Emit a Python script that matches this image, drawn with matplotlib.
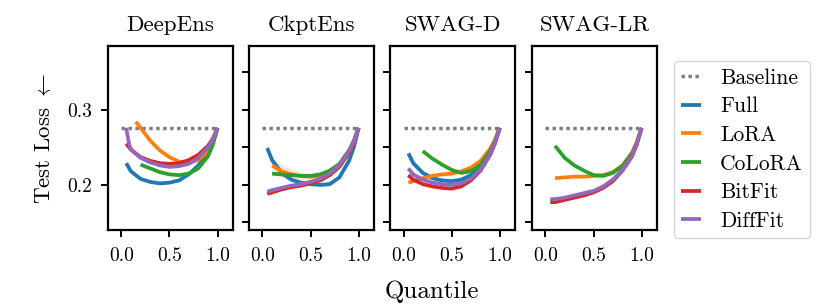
import numpy as np
import matplotlib
matplotlib.use("Agg")
import matplotlib.pyplot as plt

plt.rcParams["font.family"] = ["cmr10", "DejaVu Serif"]
plt.rcParams["mathtext.fontset"] = "cm"
plt.rcParams["axes.formatter.use_mathtext"] = True

methods = ["DeepEns", "CkptEns", "SWAG-D", "SWAG-LR"]
variants = ["Full", "LoRA", "CoLoRA", "BitFit", "DiffFit"]
colors = ["#1f77b4", "#ff7f0e", "#2ca02c", "#d62728", "#9467bd"]
baseline = 0.276

# DeepEns
de_full_x = [0.05, 0.1, 0.2, 0.3, 0.4, 0.5, 0.6, 0.7, 0.8, 0.9, 0.95, 1.0]
de_full_y = [0.229, 0.218, 0.208, 0.204, 0.202, 0.203, 0.206, 0.214, 0.226, 0.243, 0.256, 0.276]
de_lora_x = [0.15, 0.2, 0.3, 0.4, 0.5, 0.6, 0.7, 0.8, 0.9, 0.95, 1.0]
de_lora_y = [0.284, 0.276, 0.259, 0.246, 0.237, 0.231, 0.230, 0.233, 0.245, 0.257, 0.276]
de_colora_x = [0.2, 0.3, 0.4, 0.5, 0.6, 0.7, 0.8, 0.9, 0.95, 1.0]
de_colora_y = [0.227, 0.222, 0.217, 0.214, 0.213, 0.215, 0.222, 0.238, 0.253, 0.276]
de_bitfit_x = [0.05, 0.1, 0.2, 0.3, 0.4, 0.5, 0.6, 0.7, 0.8, 0.9, 0.95, 1.0]
de_bitfit_y = [0.255, 0.247, 0.237, 0.232, 0.229, 0.228, 0.229, 0.233, 0.240, 0.252, 0.261, 0.276]
de_difffit_x = [0.05, 0.08, 0.1, 0.2, 0.3, 0.4, 0.5, 0.6, 0.7, 0.8, 0.9, 0.95, 1.0]
de_difffit_y = [0.276, 0.255, 0.247, 0.236, 0.230, 0.226, 0.224, 0.225, 0.228, 0.236, 0.250, 0.260, 0.276]

# CkptEns
ck_full_x = [0.05, 0.1, 0.2, 0.3, 0.4, 0.5, 0.6, 0.7, 0.8, 0.9, 0.95, 1.0]
ck_full_y = [0.249, 0.233, 0.216, 0.207, 0.203, 0.201, 0.200, 0.201, 0.210, 0.232, 0.250, 0.276]
ck_full_s = [0.006, 0.005, 0.004, 0.003, 0.002, 0.002, 0.002, 0.002, 0.002, 0.002, 0.001, 0.001]
ck_lora_x = [0.1, 0.2, 0.3, 0.4, 0.5, 0.6, 0.7, 0.8, 0.9, 0.95, 1.0]
ck_lora_y = [0.226, 0.218, 0.214, 0.212, 0.211, 0.212, 0.216, 0.225, 0.243, 0.257, 0.276]
ck_lora_s = [0.010, 0.009, 0.007, 0.005, 0.003, 0.002, 0.002, 0.002, 0.001, 0.001, 0.001]
ck_colora_x = [0.1, 0.2, 0.3, 0.4, 0.5, 0.6, 0.7, 0.8, 0.9, 0.95, 1.0]
ck_colora_y = [0.215, 0.214, 0.213, 0.212, 0.212, 0.214, 0.219, 0.228, 0.246, 0.259, 0.276]
ck_bitfit_x = [0.05, 0.1, 0.2, 0.3, 0.4, 0.5, 0.6, 0.7, 0.8, 0.9, 0.95, 1.0]
ck_bitfit_y = [0.188, 0.190, 0.194, 0.197, 0.199, 0.202, 0.206, 0.213, 0.224, 0.243, 0.256, 0.276]
ck_difffit_x = [0.05, 0.1, 0.2, 0.3, 0.4, 0.5, 0.6, 0.7, 0.8, 0.9, 0.95, 1.0]
ck_difffit_y = [0.191, 0.193, 0.196, 0.199, 0.201, 0.204, 0.208, 0.215, 0.226, 0.245, 0.258, 0.276]

# SWAG-D
sd_full_x = [0.05, 0.1, 0.2, 0.3, 0.4, 0.5, 0.6, 0.7, 0.8, 0.9, 0.95, 1.0]
sd_full_y = [0.242, 0.229, 0.216, 0.209, 0.206, 0.205, 0.207, 0.213, 0.224, 0.242, 0.256, 0.276]
sd_full_s = [0.004, 0.004, 0.003, 0.003, 0.002, 0.002, 0.002, 0.002, 0.002, 0.001, 0.001, 0.001]
sd_lora_x = [0.05, 0.1, 0.2, 0.3, 0.4, 0.5, 0.6, 0.7, 0.8, 0.9, 0.95, 1.0]
sd_lora_y = [0.203, 0.205, 0.209, 0.212, 0.214, 0.215, 0.218, 0.223, 0.232, 0.248, 0.260, 0.276]
sd_colora_x = [0.2, 0.3, 0.4, 0.5, 0.6, 0.7, 0.8, 0.9, 0.95, 1.0]
sd_colora_y = [0.245, 0.235, 0.227, 0.220, 0.216, 0.218, 0.227, 0.245, 0.258, 0.276]
sd_bitfit_x = [0.05, 0.1, 0.2, 0.3, 0.4, 0.5, 0.6, 0.7, 0.8, 0.9, 0.95, 1.0]
sd_bitfit_y = [0.213, 0.207, 0.201, 0.198, 0.196, 0.195, 0.198, 0.206, 0.219, 0.240, 0.255, 0.276]
sd_difffit_x = [0.05, 0.1, 0.2, 0.3, 0.4, 0.5, 0.6, 0.7, 0.8, 0.9, 0.95, 1.0]
sd_difffit_y = [0.222, 0.214, 0.207, 0.203, 0.201, 0.200, 0.202, 0.208, 0.220, 0.241, 0.256, 0.276]

# SWAG-LR
sl_lora_x = [0.1, 0.2, 0.3, 0.4, 0.5, 0.6, 0.7, 0.8, 0.9, 0.95, 1.0]
sl_lora_y = [0.209, 0.210, 0.211, 0.211, 0.212, 0.213, 0.217, 0.226, 0.243, 0.257, 0.276]
sl_colora_x = [0.1, 0.2, 0.3, 0.4, 0.5, 0.6, 0.7, 0.8, 0.9, 0.95, 1.0]
sl_colora_y = [0.252, 0.236, 0.226, 0.219, 0.213, 0.212, 0.216, 0.225, 0.242, 0.256, 0.276]
sl_bitfit_x = [0.05, 0.1, 0.2, 0.3, 0.4, 0.5, 0.6, 0.7, 0.8, 0.9, 0.95, 1.0]
sl_bitfit_y = [0.177, 0.177, 0.180, 0.183, 0.186, 0.190, 0.196, 0.205, 0.219, 0.238, 0.254, 0.276]
sl_difffit_x = [0.05, 0.1, 0.2, 0.3, 0.4, 0.5, 0.6, 0.7, 0.8, 0.9, 0.95, 1.0]
sl_difffit_y = [0.181, 0.181, 0.183, 0.186, 0.189, 0.192, 0.198, 0.207, 0.220, 0.239, 0.255, 0.276]

panels = [
    {"Full": (de_full_x, de_full_y, None), "LoRA": (de_lora_x, de_lora_y, None),
     "CoLoRA": (de_colora_x, de_colora_y, None), "BitFit": (de_bitfit_x, de_bitfit_y, None),
     "DiffFit": (de_difffit_x, de_difffit_y, None)},
    {"Full": (ck_full_x, ck_full_y, ck_full_s), "LoRA": (ck_lora_x, ck_lora_y, ck_lora_s),
     "CoLoRA": (ck_colora_x, ck_colora_y, None), "BitFit": (ck_bitfit_x, ck_bitfit_y, None),
     "DiffFit": (ck_difffit_x, ck_difffit_y, None)},
    {"Full": (sd_full_x, sd_full_y, sd_full_s), "LoRA": (sd_lora_x, sd_lora_y, None),
     "CoLoRA": (sd_colora_x, sd_colora_y, None), "BitFit": (sd_bitfit_x, sd_bitfit_y, None),
     "DiffFit": (sd_difffit_x, sd_difffit_y, None)},
    {"LoRA": (sl_lora_x, sl_lora_y, None), "CoLoRA": (sl_colora_x, sl_colora_y, None),
     "BitFit": (sl_bitfit_x, sl_bitfit_y, None), "DiffFit": (sl_difffit_x, sl_difffit_y, None)},
]

LW = 2.7
fig = plt.figure(figsize=(8.3, 3.07), dpi=100)
lefts = [0.130, 0.300, 0.470, 0.641]
axes = []
for i, name in enumerate(methods):
    ax = fig.add_axes([lefts[i], 0.251, 0.1506, 0.599])
    axes.append(ax)
    ax.plot([0.0, 1.0], [baseline, baseline], ls=(0, (1, 1)), color="gray",
            lw=2.5, label="Baseline")
    for v, c in zip(variants, colors):
        if v not in panels[i]:
            # keep legend entry ordering
            ax.plot([], [], color=c, lw=LW, label=v)
            continue
        x, y, s = panels[i][v]
        x = np.array(x)
        y = np.array(y)
        if s is not None:
            s = np.array(s)
            ax.fill_between(x, y - s, y + s, color=c, alpha=0.2, lw=0)
        ax.plot(x, y, color=c, lw=LW, label=v, solid_capstyle="butt",
                solid_joinstyle="round")
    ax.set_xlim(-0.14, 1.16)
    ax.set_ylim(0.14, 0.385)
    ax.set_xticks([0.0, 0.5, 1.0])
    ax.set_xticklabels(["0.0", "0.5", "1.0"])
    if i == 0:
        ax.set_yticks([0.2, 0.3])
        ax.set_yticklabels(["0.2", "0.3"])
        ax.set_ylabel("Test Loss $\\leftarrow$", fontsize=16.5, labelpad=10)
    else:
        ax.set_yticks([0.15, 0.2, 0.25, 0.3, 0.35])
        ax.set_yticklabels([])
    ax.tick_params(labelsize=14, width=1.4, length=5)
    ax.tick_params(axis="x", pad=7)
    ax.tick_params(axis="y", pad=6)
    for sp in ax.spines.values():
        sp.set_linewidth(1.6)
    ax.set_title(name, fontsize=16.5, pad=11)

fig.text(0.52, 0.029, "Quantile", ha="center", va="baseline", fontsize=18)
handles, labels = axes[0].get_legend_handles_labels()
fig.legend(handles, labels, loc="upper left", bbox_to_anchor=(0.812, 0.802),
           fontsize=15.5, handlelength=0.9, frameon=True, borderpad=0.35,
           labelspacing=0.42, handletextpad=0.9, borderaxespad=0)
fig.savefig("out.png", dpi=100)
